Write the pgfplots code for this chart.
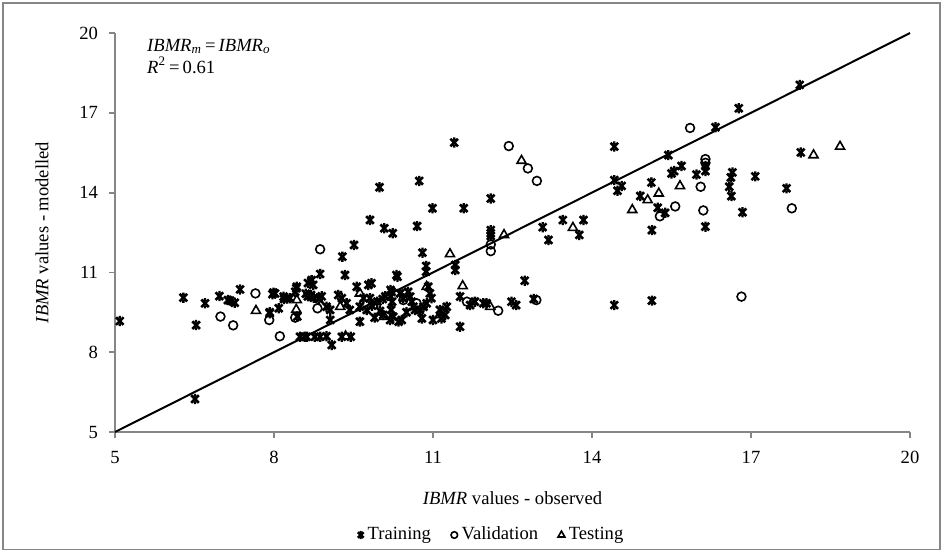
\documentclass[border=0pt]{standalone}
\usepackage{fontspec}
\setmainfont{Liberation Serif}
\usepackage{pgfplots}
\pgfplotsset{compat=1.18}

\definecolor{axgray}{HTML}{868686}

% Excel-like bold x marker
\pgfdeclareplotmark{xbold}{%
  \pgfpathmoveto{\pgfqpoint{-\pgfplotmarksize}{-\pgfplotmarksize}}%
  \pgfpathlineto{\pgfqpoint{\pgfplotmarksize}{\pgfplotmarksize}}%
  \pgfpathmoveto{\pgfqpoint{-\pgfplotmarksize}{\pgfplotmarksize}}%
  \pgfpathlineto{\pgfqpoint{\pgfplotmarksize}{-\pgfplotmarksize}}%
  \pgfpathmoveto{\pgfqpoint{-0.3\pgfplotmarksize}{\pgfplotmarksize}}%
  \pgfpathlineto{\pgfqpoint{0.3\pgfplotmarksize}{\pgfplotmarksize}}%
  \pgfpathmoveto{\pgfqpoint{-0.3\pgfplotmarksize}{-\pgfplotmarksize}}%
  \pgfpathlineto{\pgfqpoint{0.3\pgfplotmarksize}{-\pgfplotmarksize}}%
  \pgfusepathqstroke}

\newcommand{\ibmr}{\textit{IBMR}}

\begin{document}
\begin{tikzpicture}
\useasboundingbox (-57.5pt,-60.5pt) rectangle (414pt,216pt);
\begin{axis}[
    scale only axis,
    width=397.5pt, height=199.5pt,
    xmin=5, xmax=20, ymin=5, ymax=20,
    xtick={5,8,11,14,17,20}, ytick={5,8,11,14,17,20},
    axis x line*=bottom, axis y line*=left,
    axis line style={draw=axgray, line width=0.9pt, -},
    tick style={draw=axgray, line width=0.9pt},
    tick align=outside, major tick length=3pt,
    font=\fontsize{9.3}{11}\selectfont,
    /pgf/number format/assume math mode=true,
    ticklabel style={font=\fontsize{9.3}{11}\selectfont},
    xticklabel style={yshift=-3pt},
    yticklabel style={xshift=-2pt},
    xlabel={\ibmr{} values - observed},
    ylabel={\ibmr{} values - modelled},
    every axis x label/.style={at={([yshift=-33pt]rel axis cs:0.5,0)}, anchor=center},
    every axis y label/.style={at={([xshift=-36.5pt]rel axis cs:0,0.5)}, rotate=90, anchor=center},
    legend style={at={([yshift=-51.5pt]rel axis cs:0.475,0)}, anchor=center,
        draw=none, fill=none, font=\fontsize{9.3}{11}\selectfont,
        legend columns=3, /tikz/every even column/.append style={column sep=8pt}},
    legend image post style={scale=0.75},
    legend cell align=left,
    clip=false,
]

\addplot[black, line width=1pt, no marks, forget plot] coordinates {(5,5) (20,20)};

% Training
\addplot[only marks, mark=xbold, mark size=1.9pt, black, line width=1.3pt] coordinates {
(5.09,9.17) (6.29,10.05) (6.53,9.02) (6.51,6.24) (6.70,9.84) (6.97,10.11)
(7.13,9.96) (7.17,9.94) (7.26,9.86) (7.36,10.36) (7.92,9.50) (7.97,10.18)
(8.02,10.21) (8.09,9.65) (8.19,10.00) (8.25,10.02) (8.30,10.03) (8.42,10.40)
(8.44,9.34) (8.49,8.58) (8.58,8.58) (8.64,10.60) (8.64,10.10) (7.99,10.24)
(8.18,10.09) (8.43,10.46) (8.40,10.27) (8.71,10.71) (8.74,10.53) (8.87,10.94)
(9.34,10.90) (8.62,8.58) (8.77,8.58) (8.87,8.58) (8.99,8.60) (9.09,8.27)
(9.28,8.58) (9.45,8.58) (9.06,9.21) (9.62,9.15) (8.99,9.71) (9.06,9.59)
(9.21,10.15) (9.28,10.03) (9.37,9.84) (9.56,10.46) (9.78,10.53) (9.84,10.59)
(9.69,10.03) (9.81,10.03) (9.62,9.71) (9.43,9.59) (8.60,10.20) (8.70,10.15)
(8.75,10.05) (8.85,10.00) (8.90,10.10) (7.92,9.46) (9.75,9.59) (9.85,9.75)
(9.95,9.90) (10.05,10.00) (10.10,10.10) (10.22,10.27) (10.06,9.40) (10.19,9.21)
(10.25,9.33) (10.31,10.90) (10.33,10.84) (9.29,11.59) (9.51,12.03) (9.81,12.97)
(9.99,14.20) (10.08,12.66) (10.24,12.47) (10.70,12.74) (10.74,14.44) (10.80,11.74)
(10.87,11.24) (10.87,11.03) (11.42,11.28) (11.42,11.09) (11.40,15.88) (10.99,13.41)
(11.58,13.41) (12.09,13.78) (12.09,12.59) (12.09,12.47) (12.09,12.37) (12.73,10.69)
(13.07,12.70) (13.18,12.22) (13.45,12.97) (13.76,12.41) (13.84,12.97) (14.42,15.73)
(14.42,14.47) (14.48,14.07) (14.56,14.25) (14.42,9.77) (12.90,10.00) (11.51,10.09)
(11.70,9.77) (11.79,9.90) (11.95,9.84) (12.01,9.84) (12.48,9.90) (12.57,9.77)
(11.51,8.96) (10.20,10.34) (10.20,10.09) (10.23,9.90) (10.21,9.59) (10.38,10.21)
(10.44,10.03) (10.53,10.27) (10.57,10.09) (10.35,9.15) (10.41,9.21) (10.91,10.46)
(10.94,10.21) (10.97,10.03) (10.88,9.84) (10.82,9.71) (10.75,9.59) (10.79,9.27)
(11.00,9.21) (11.13,9.59) (11.16,9.27) (11.23,9.40) (11.26,9.71) (10.63,9.71)
(10.66,9.59) (10.50,9.50) (10.60,9.90) (10.00,9.55) (9.90,9.30)
(17.92,18.05) (16.77,17.17) (16.33,16.46) (15.44,15.41) (15.50,14.72) (15.55,14.81)
(15.69,15.00) (16.14,15.00) (16.14,14.81) (15.97,14.68) (15.12,14.38) (14.91,13.87)
(15.24,13.43) (15.38,13.24) (15.13,12.59) (16.14,12.72) (16.65,14.76) (16.62,14.57)
(16.59,14.22) (16.63,13.87) (16.84,13.26) (17.08,14.61) (17.67,14.16) (17.94,15.51)
(15.13,9.94)
};
\addlegendentry{Training}

% Validation
\addplot[only marks, mark=o, mark size=2.2pt, black, line width=0.8pt] coordinates {
(6.99,9.34) (7.23,9.01) (7.65,10.21) (7.91,9.21) (8.11,8.60) (8.40,9.30)
(8.82,9.65) (8.87,11.87) (10.44,9.96) (10.69,9.84) (11.64,9.90) (12.23,9.56)
(12.09,12.05) (12.09,11.80) (12.95,9.96) (12.43,15.75) (12.79,14.91) (12.96,14.44)
(15.85,16.43) (16.14,15.26) (16.14,15.12) (16.05,14.22) (15.57,13.48) (15.28,13.11)
(16.10,13.33) (17.77,13.41) (16.82,10.09)
};
\addlegendentry{Validation}

% Testing
\addplot[only marks, mark=triangle, mark size=2.6pt, black, line width=0.8pt] coordinates {
(7.66,9.56) (8.43,9.96) (8.42,9.60) (9.35,8.60) (9.25,9.71) (9.62,10.21)
(10.08,9.33) (10.88,10.46) (11.13,9.40) (11.32,11.69) (11.56,10.49) (12.08,9.71)
(12.34,12.41) (12.67,15.20) (13.64,12.68) (14.76,13.35) (15.05,13.72) (15.26,13.97)
(15.66,14.25) (18.18,15.41) (18.68,15.73)
};
\addlegendentry{Testing}

\node[anchor=north west, align=left, inner sep=0pt, font=\fontsize{9.3}{11}\selectfont]
  at (rel axis cs:0.04,0.985)
  {\textit{IBMR\textsubscript{m}}\,=\,\textit{IBMR\textsubscript{o}}\\
   \textit{R}\textsuperscript{2}\,=\,0.61};
\end{axis}
\draw[axgray, line width=0.7pt] (-56pt,-58.75pt) rectangle (412.5pt,214.5pt);
\end{tikzpicture}
\end{document}
